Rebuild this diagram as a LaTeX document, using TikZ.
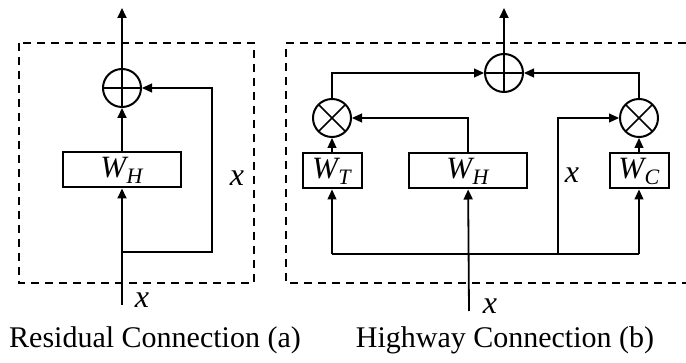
\documentclass[tikz,border=0pt]{standalone}
\usepackage{fontspec}
\setmainfont{Liberation Serif}
\usepackage{tikz}
\usetikzlibrary{arrows.meta, calc}

\newcommand{\wlab}[1]{\textit{W}\kern-1pt\raisebox{-3pt}{\fontsize{11}{12}\selectfont\textit{#1}}}

\begin{document}
\begin{tikzpicture}[x=0.5pt, y=-0.5pt,
    wbox/.style={rectangle, draw, line width=1pt, minimum height=17.5pt,
                 inner sep=0pt, font=\fontsize{15.5}{17}\selectfont},
    opsum/.style={circle, draw, line width=1pt, minimum size=19pt, inner sep=0pt,
                  path picture={\draw[line width=1.1pt]
                    (path picture bounding box.north) -- (path picture bounding box.south)
                    (path picture bounding box.west) -- (path picture bounding box.east);}},
    opmul/.style={circle, draw, line width=1pt, minimum size=19pt, inner sep=0pt,
                  path picture={\draw[line width=0.8pt]
                    ($(path picture bounding box.center)+(45:9.5pt)$) -- ($(path picture bounding box.center)+(225:9.5pt)$)
                    ($(path picture bounding box.center)+(135:9.5pt)$) -- ($(path picture bounding box.center)+(315:9.5pt)$);}},
    frame/.style={dashed, line width=1pt, dash pattern=on 4pt off 3pt},
    lbl/.style={font=\fontsize{16}{18}\selectfont\itshape},
    captext/.style={font=\fontsize{15}{18}\selectfont},
    arr/.style={-{Triangle[length=5pt,width=4.5pt]}, line width=0.6pt},
    arrm/.style={arr, line width=0.9pt}]

  \useasboundingbox (0,0) rectangle (686,363);

  % residual connection
  \draw[frame] (19,43) rectangle (254,283);
  \node[opsum]                    (addA) at (122,88)  {};
  \node[wbox, minimum width=59pt] (wHa)  at (122,170) {\wlab{H}};
  \coordinate (outA) at (122,8);
  \coordinate (inA)  at (122,305);
  \coordinate (brA)  at (122,252);
  \coordinate (skA)  at (212,252);

  \draw[arrm] (inA) -- (wHa);
  \draw[arrm] (wHa) -- (addA);
  \draw[arrm] (addA) -- (outA);
  \draw[arr] (brA) -- (skA) |- (addA);
  \node[lbl] (xA)  at (237,178) {x};
  \node[lbl] (xiA) at (142,300) {x};
  \node[captext] (capA) at (155,340) {Residual Connection (a)};

  % highway connection
  \draw[frame] (686,43) -| (286,283) -- (686,283);
  \node[opsum] (addB) at (504,73)  {};
  \node[opmul] (mulT) at (332,118) {};
  \node[opmul] (mulC) at (639,118) {};
  \node[wbox, minimum width=29.5pt] (wT)  at (332,171) {\wlab{T}};
  \node[wbox, minimum width=59pt]   (wHb) at (468,171) {\wlab{H}};
  \node[wbox, minimum width=29.5pt] (wC)  at (639,171) {\wlab{C}};
  \coordinate (outB) at (504,8);
  \coordinate (inB)  at (469,311);
  \coordinate (busL) at (332,254);
  \coordinate (busR) at (639,254);
  \coordinate (brB)  at (558,254);

  \draw[arrm] (inB) -- (wHb);
  \draw[arrm] (addB) -- (outB);
  \draw[arr] (wT) -- (mulT);
  \draw[arr] (wC) -- (mulC);
  \draw[arr] (mulT) |- (addB);
  \draw[arr] (mulC) |- (addB);
  \draw[arr] (wHb) |- (mulT);
  \draw[line width=0.6pt] (busL) -- (busR);
  \draw[arr] (busL) -- (wT);
  \draw[arr] (busR) -- (wC);
  \draw[arr] (brB) |- (mulC);
  \node[lbl] (xB)  at (572,175) {x};
  \node[lbl] (xiB) at (490,306) {x};
  \node[captext] (capB) at (505,340) {Highway Connection (b)};
\end{tikzpicture}
\end{document}
